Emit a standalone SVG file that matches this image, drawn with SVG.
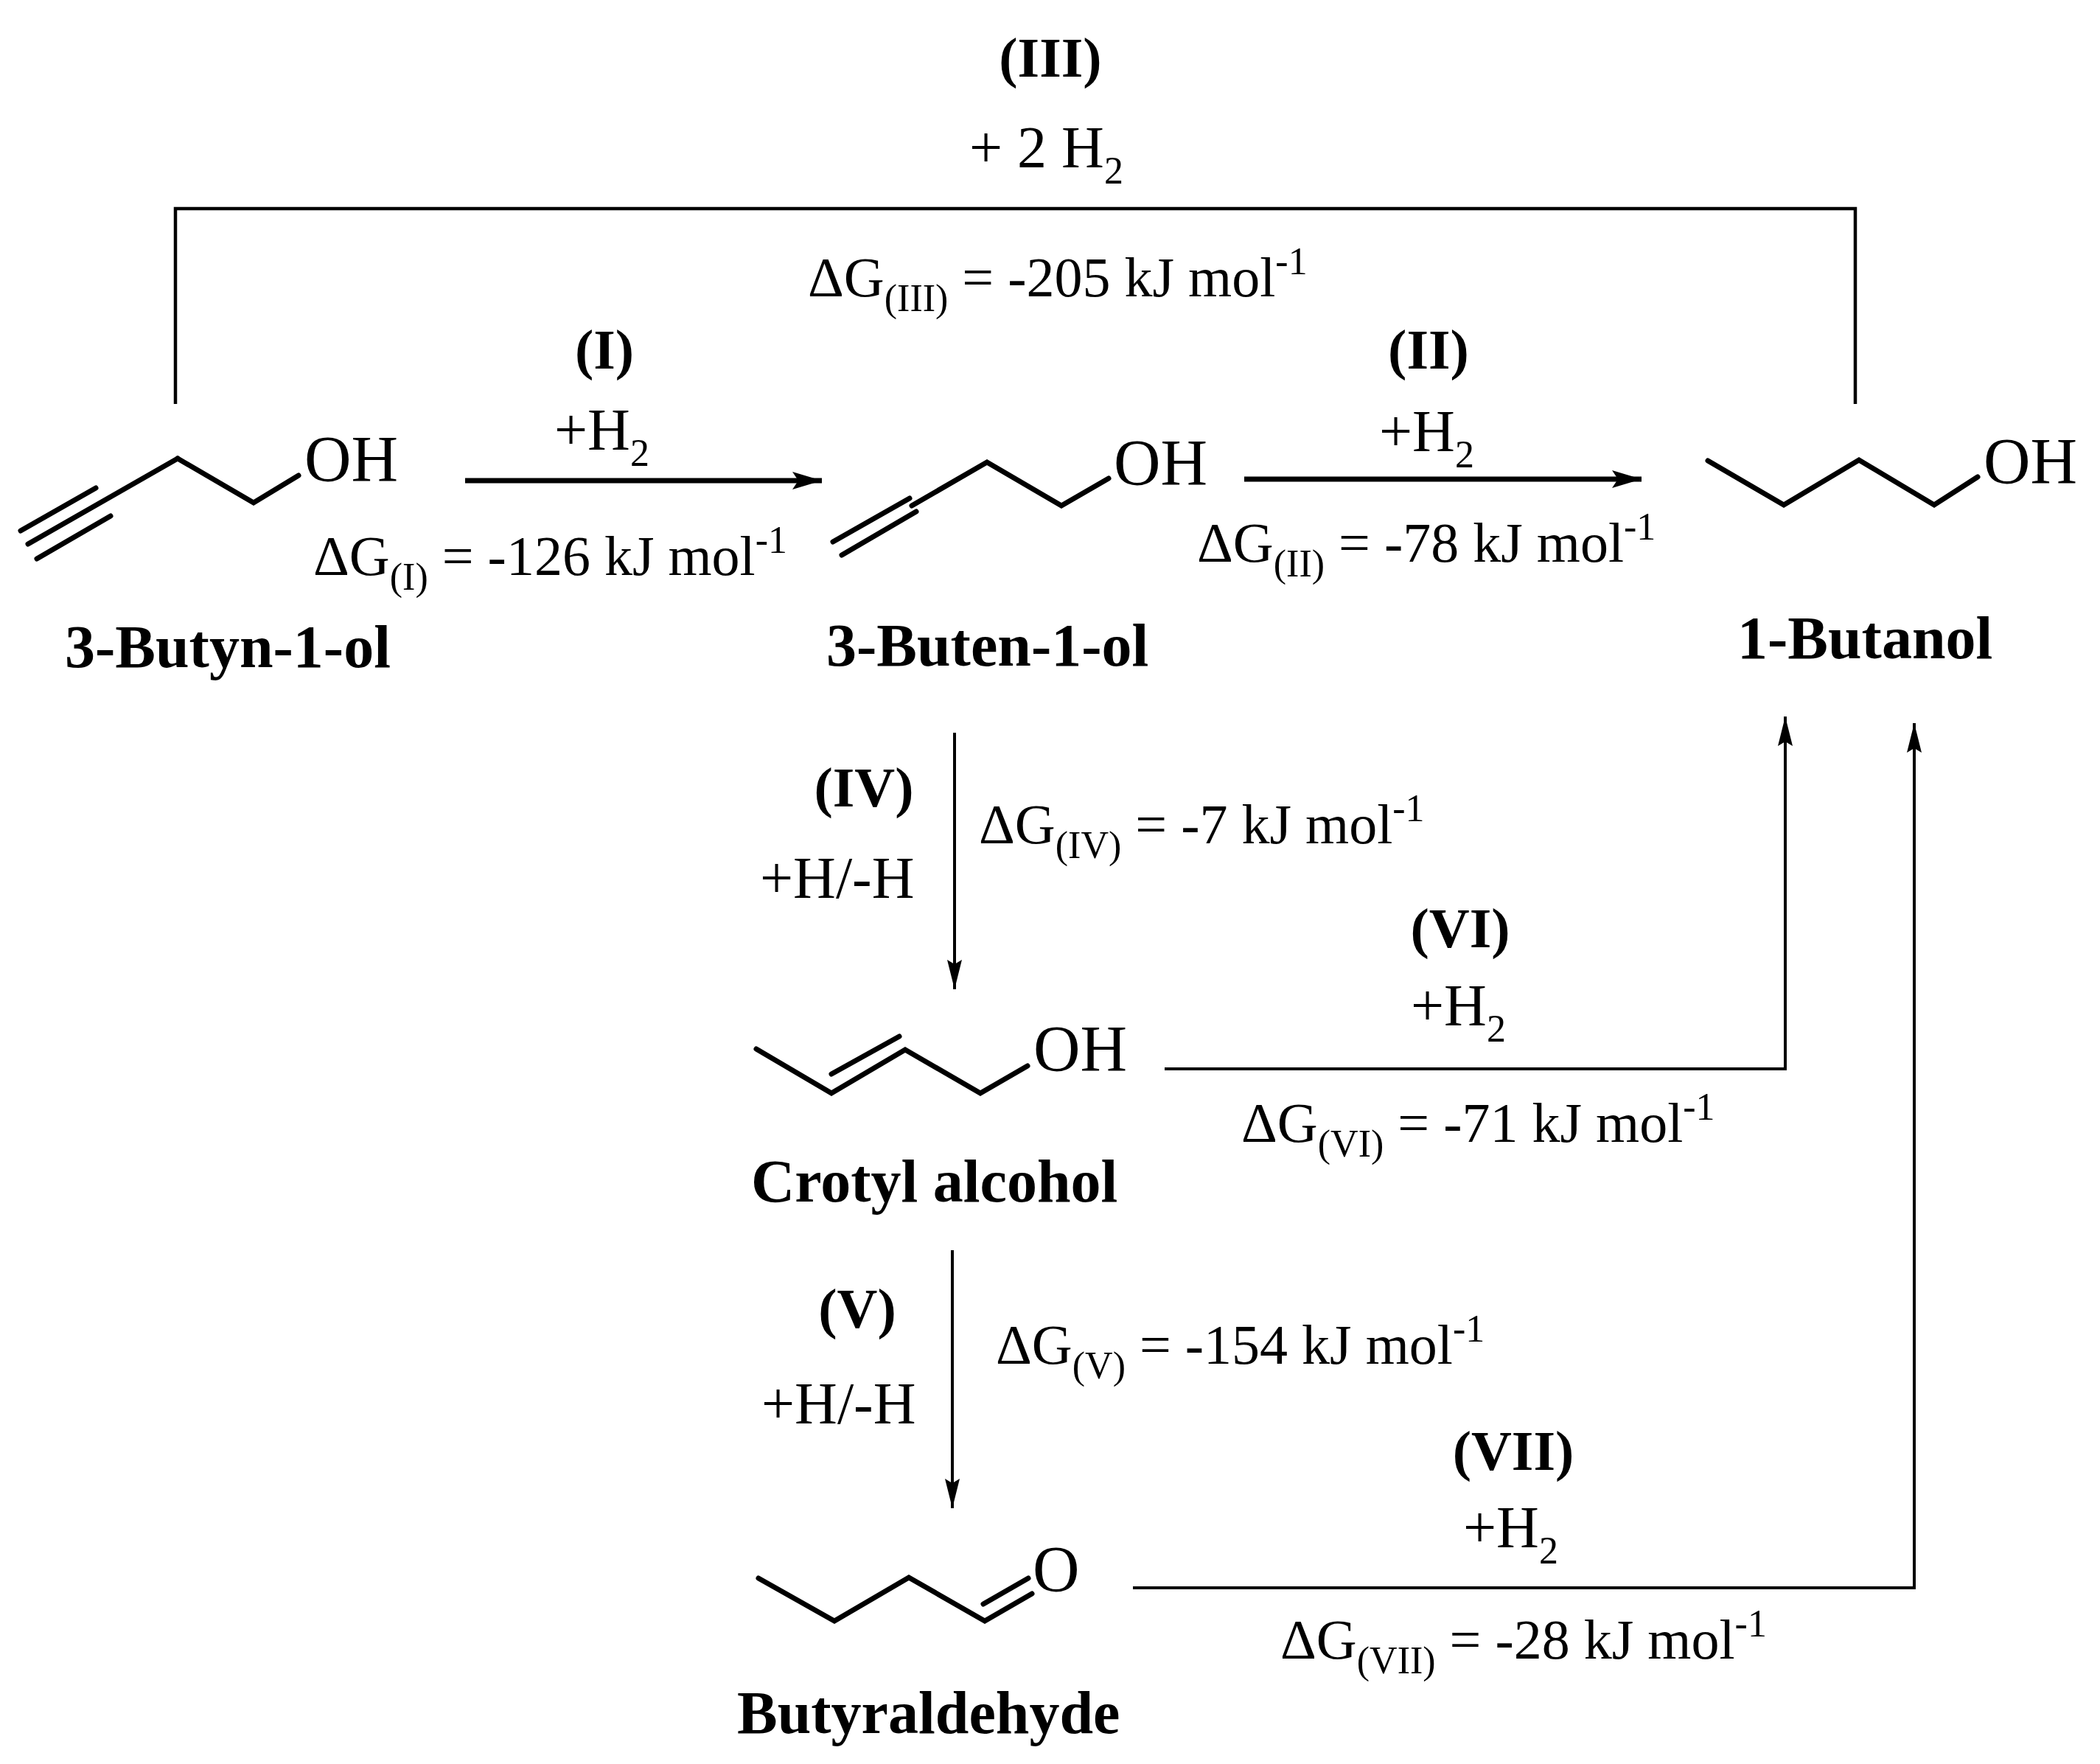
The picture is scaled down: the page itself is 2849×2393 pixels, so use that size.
<svg xmlns="http://www.w3.org/2000/svg" width="2849" height="2393" viewBox="0 0 2849 2393">
<style>
text{font-family:"Liberation Serif","Times New Roman",serif;fill:#000}
.dg{font-size:76px}
.lb{font-size:76px;font-weight:bold;text-anchor:middle}
.nm{font-size:82px;font-weight:bold}
.oh{font-size:88px}
.h2{font-size:80px}
.sb{font-size:52px}
.bond{stroke:#000;stroke-width:7;fill:none;stroke-linecap:round;stroke-linejoin:miter}
.ln{stroke:#000;stroke-width:4.5;fill:none}
.arr{stroke:#000;stroke-width:7;fill:none}
.varr{stroke:#000;stroke-width:4;fill:none}
</style>
<defs>
<marker id="ah" viewBox="0 0 40 24" refX="40" refY="12" markerWidth="40" markerHeight="24" markerUnits="userSpaceOnUse" orient="auto">
<path d="M0,0 L40,12 L0,24 L8,12 Z" fill="#000"/>
</marker>
<marker id="av" viewBox="0 0 40 20" refX="40" refY="10" markerWidth="44" markerHeight="20" markerUnits="userSpaceOnUse" orient="auto">
<path d="M0,0 L40,10 L0,20 L6,10 Z" fill="#000"/>
</marker>
</defs>

<g id="butynol">
<line class="bond" x1="38" y1="738" x2="241" y2="622"/>
<line class="bond" x1="28" y1="720" x2="130" y2="662"/>
<line class="bond" x1="50" y1="758" x2="150" y2="700"/>
<polyline class="bond" points="241,622 344,682 405,645"/>
<text class="oh" x="413" y="652">OH</text>
<text class="nm" x="88" y="905">3-Butyn-1-ol</text>
</g>

<g id="butenol">
<line class="bond" x1="1130" y1="735" x2="1234" y2="676"/>
<line class="bond" x1="1142" y1="753" x2="1243" y2="694"/>
<polyline class="bond" points="1237,686 1339,627 1440,686 1504,649"/>
<text class="oh" x="1511" y="657">OH</text>
<text class="nm" x="1121" y="903">3-Buten-1-ol</text>
</g>

<g id="butanol">
<polyline class="bond" points="2317,625 2420,685 2522,624 2624,685 2683,647"/>
<text class="oh" x="2691" y="655">OH</text>
<text class="nm" x="2357" y="893">1-Butanol</text>
</g>

<g id="crotyl">
<polyline class="bond" points="1026,1423 1128,1483 1228,1424 1330,1483 1394,1446"/>
<line class="bond" x1="1128" y1="1457" x2="1220" y2="1406"/>
<text class="oh" x="1402" y="1452">OH</text>
<text class="nm" x="1019" y="1630">Crotyl alcohol</text>
</g>

<g id="butyraldehyde">
<polyline class="bond" points="1029,2141 1132,2199 1233,2140 1336,2199 1400,2162"/>
<line class="bond" x1="1334" y1="2176" x2="1395" y2="2141"/>
<text class="oh" x="1401" y="2158">O</text>
<text class="nm" x="1000" y="2351">Butyraldehyde</text>
</g>

<g id="connectors">
<polyline class="ln" points="238,548 238,283 2517,283 2517,548"/>
<line class="arr" x1="631" y1="652" x2="1115" y2="652" marker-end="url(#ah)"/>
<line class="arr" x1="1688" y1="650" x2="2227" y2="650" marker-end="url(#ah)"/>
<line class="varr" x1="1295" y1="994" x2="1295" y2="1342" marker-end="url(#av)"/>
<line class="varr" x1="1292" y1="1696" x2="1292" y2="2046" marker-end="url(#av)"/>
<polyline class="varr" points="1580,1450 2422,1450 2422,972" marker-end="url(#av)"/>
<polyline class="varr" points="1537,2154 2597,2154 2597,981" marker-end="url(#av)"/>
</g>

<g id="labels">
<text class="lb" x="1425" y="104">(III)</text>
<text class="h2" x="1315" y="227">+ 2 H<tspan class="sb" dy="22">2</tspan></text>
<text class="dg" x="1096" y="402">ΔG<tspan class="sb" dy="20">(III)</tspan><tspan dy="-20"> = -205 kJ mol</tspan><tspan class="sb" dy="-30">-1</tspan></text>

<text class="lb" x="820" y="500">(I)</text>
<text class="h2" x="752" y="610">+H<tspan class="sb" dy="22">2</tspan></text>
<text class="dg" x="425" y="780">ΔG<tspan class="sb" dy="20">(I)</tspan><tspan dy="-20"> = -126 kJ mol</tspan><tspan class="sb" dy="-30">-1</tspan></text>

<text class="lb" x="1938" y="500">(II)</text>
<text class="h2" x="1871" y="612">+H<tspan class="sb" dy="22">2</tspan></text>
<text class="dg" x="1624" y="762">ΔG<tspan class="sb" dy="20">(II)</tspan><tspan dy="-20"> = -78 kJ mol</tspan><tspan class="sb" dy="-30">-1</tspan></text>

<text class="lb" x="1172" y="1094">(IV)</text>
<text class="h2" x="1031" y="1218">+H/-H</text>
<text class="dg" x="1328" y="1144">ΔG<tspan class="sb" dy="20">(IV)</tspan><tspan dy="-20"> = -7 kJ mol</tspan><tspan class="sb" dy="-30">-1</tspan></text>

<text class="lb" x="1981" y="1285">(VI)</text>
<text class="h2" x="1914" y="1391">+H<tspan class="sb" dy="22">2</tspan></text>
<text class="dg" x="1684" y="1549">ΔG<tspan class="sb" dy="20">(VI)</tspan><tspan dy="-20"> = -71 kJ mol</tspan><tspan class="sb" dy="-30">-1</tspan></text>

<text class="lb" x="1163" y="1801">(V)</text>
<text class="h2" x="1033" y="1931">+H/-H</text>
<text class="dg" x="1351" y="1850">ΔG<tspan class="sb" dy="20">(V)</tspan><tspan dy="-20"> = -154 kJ mol</tspan><tspan class="sb" dy="-30">-1</tspan></text>

<text class="lb" x="2053" y="1994">(VII)</text>
<text class="h2" x="1985" y="2099">+H<tspan class="sb" dy="22">2</tspan></text>
<text class="dg" x="1737" y="2250">ΔG<tspan class="sb" dy="20">(VII)</tspan><tspan dy="-20"> = -28 kJ mol</tspan><tspan class="sb" dy="-30">-1</tspan></text>
</g>
</svg>
